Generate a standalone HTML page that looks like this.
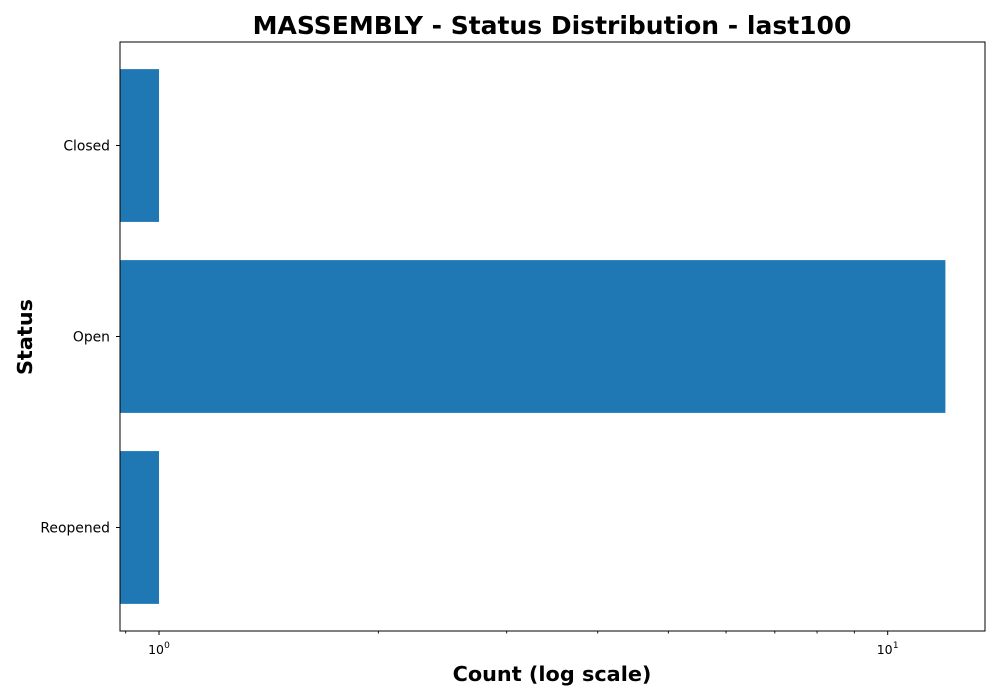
<!DOCTYPE html>
<html><head><meta charset="utf-8"><style>
html,body{margin:0;padding:0;background:#fff;}
svg{display:block;font-family:"DejaVu Sans","Liberation Sans",sans-serif;}
</style></head><body>
<svg id="chart" width="1000" height="700"></svg>
<script>
const categories = ["Closed","Open","Reopened"];
const counts = [1, 12, 1];
const majorTicks = [1, 10];
const majorLabels = ["0","1"];

const svg = document.getElementById('chart');
const NS = "http://www.w3.org/2000/svg";
const L=120, R=985, T=42, B=631;
const xmin=0.884, xmax=13.6;
function x(v){return L+(Math.log10(v)-Math.log10(xmin))/(Math.log10(xmax)-Math.log10(xmin))*(R-L);}
const ylo=-0.542, yhi=categories.length-1+0.542;
const unit=(B-T)/(yhi-ylo);
function yc(i){return T+(i-ylo)*unit;}
function mk(tag,attrs,parent){const e=document.createElementNS(NS,tag);for(const k in attrs)e.setAttribute(k,attrs[k]);(parent||svg).appendChild(e);return e;}

categories.forEach((c,i)=>{
  const h=unit*0.8;
  const b=mk('rect',{x:L,y:yc(i)-h/2,width:x(counts[i])-L,height:h,fill:'#1f77b4'});
  
  
  mk('line',{x1:L-4,x2:L,y1:yc(i),y2:yc(i),stroke:'#000','stroke-width':1});
  const lb=mk('text',{x:L-10,y:yc(i)+5,'text-anchor':'end','font-size':13.9});
  lb.textContent=c;
  
  
});
const fr=mk('rect',{x:L,y:T,width:R-L,height:B-T,fill:'none',stroke:'#000','stroke-width':1});


for(let d=0.1;d<=10;d*=10){for(let m=2;m<=9;m++){const v=m*d;if(v>=xmin&&v<=xmax){mk('line',{x1:x(v),x2:x(v),y1:B,y2:B+2.5,stroke:'#000','stroke-width':0.9});}}}
majorTicks.forEach((v,i)=>{
  mk('line',{x1:x(v),x2:x(v),y1:B,y2:B+4,stroke:'#000','stroke-width':1});
  const t=mk('text',{x:x(v)-3,y:B+23,'text-anchor':'middle','font-size':12.5});
  t.textContent='10';
  
  
  const s=mk('text',{x:x(v)+8,y:B+17,'text-anchor':'middle','font-size':9});
  s.textContent=majorLabels[i];
});
const title=mk('text',{x:552,y:34,'text-anchor':'middle','font-size':25,'font-weight':'bold'});
title.textContent='MASSEMBLY - Status Distribution - last100';


const xt=mk('text',{x:552,y:681,'text-anchor':'middle','font-size':20.8,'font-weight':'bold'});
xt.textContent='Count (log scale)';


const yt=mk('text',{x:0,y:0,'text-anchor':'middle','font-size':20.8,'font-weight':'bold',transform:'translate(32,337) rotate(-90)'});
yt.textContent='Status';


</script>
</body></html>
